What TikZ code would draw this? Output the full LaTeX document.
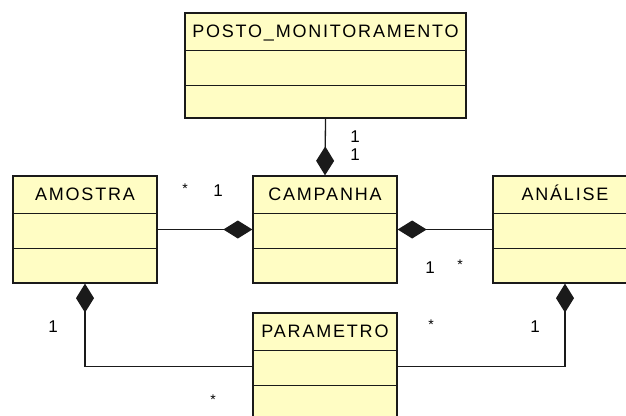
\documentclass[tikz,border=0pt]{standalone}
\usepackage{fontspec}
\setmainfont{Liberation Sans}
\newfontfamily\classfont[LetterSpace=10]{Liberation Sans}
\usetikzlibrary{arrows.meta,calc}
\definecolor{UmlFill}{HTML}{FFFDC4}
\definecolor{UmlLine}{HTML}{1A1A1A}
\tikzset{
  umlclass/.style={draw=UmlLine,line width=1.3pt,fill=UmlFill,inner sep=0pt,
    minimum width=144pt,minimum height=107pt},
  classname/.style={font=\classfont\fontsize{18}{20}\selectfont,inner sep=0pt,anchor=base},
  mult/.style={font=\fontsize{17}{19}\selectfont,inner sep=0pt},
  star/.style={font=\fontsize{14}{16}\selectfont,inner sep=0pt},
  assoc/.style={line width=1.3pt,draw=UmlLine},
  compose/.style={assoc,{Diamond[length=29pt,width=18pt]}-}
}

\begin{document}
\begin{tikzpicture}[x=1pt,y=-1pt]
  \useasboundingbox (0,0) rectangle (626,415);
  \clip (0,0) rectangle (626,415);
  % classes
  \node[umlclass,minimum width=281pt,minimum height=105pt] (posto) at (325.5,65.5) {};
  \node[umlclass] (amostra) at (85,229.5) {};
  \node[umlclass] (campanha) at (325,229.5) {};
  \node[umlclass] (analise) at (565,229.5) {};
  \node[umlclass] (parametro) at (325,366.5) {};
  \foreach \c in {posto,amostra,campanha,analise,parametro} {
    \draw[assoc] ($(\c.north west)+(0,38)$) -- ($(\c.north east)+(0,38)$);
    \draw[assoc] ($(\c.north west)+(0,73)$) -- ($(\c.north east)+(0,73)$);
  }
  \node[classname] (postoname) at ($(posto.north)+(0,25.5)$) {POSTO\_MONITORAMENTO};
  \node[classname] (amostraname) at ($(amostra.north)+(0,25.5)$) {AMOSTRA};
  \node[classname] (campanhaname) at ($(campanha.north)+(0,25.5)$) {CAMPANHA};
  \node[classname] (analisename) at ($(analise.north)+(0,25.5)$) {ANÁLISE};
  \node[classname] (parametroname) at ($(parametro.north)+(0,25.5)$) {PARAMETRO};
  % compositions
  \draw[compose] (campanha.north) -- (posto.south);
  \draw[compose] (campanha.west) -- (amostra.east);
  \draw[compose] (campanha.east) -- (analise.west);
  \draw[compose] (amostra.south) |- (parametro.west);
  \draw[compose] (analise.south) |- (parametro.east);
  % multiplicities
  \node[mult] (m1) at (355,137) {1};
  \node[mult] (m2) at (355,155) {1};
  \node[star] (m3) at (185,189) {*};
  \node[mult] (m4) at (218,191) {1};
  \node[mult] (m5) at (430,268) {1};
  \node[star] (m6) at (460,265) {*};
  \node[mult] (m7) at (53,327) {1};
  \node[star] (m8) at (431,325) {*};
  \node[mult] (m9) at (535,327) {1};
  \node[star] (m10) at (213,400) {*};
\end{tikzpicture}
\end{document}
